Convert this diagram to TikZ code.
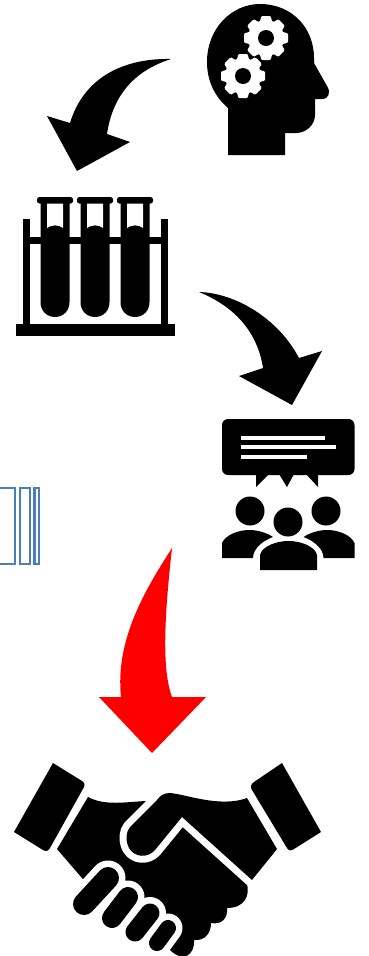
\documentclass[tikz,border=0pt]{standalone}
\usepackage{xcolor}
\usepackage{tikz}
\definecolor{boxblue}{HTML}{4A7EBB}
\definecolor{arrowred}{HTML}{FF0000}

\begin{document}
\begin{tikzpicture}[
        x=1pt, y=-1pt,
        blackshape/.style={fill=black, draw=none},
        cutout/.style={fill=white, draw=none},
        redarrow/.style={fill=arrowred, draw=none},
        outlinebox/.style={draw=boxblue, line width=2.2pt, fill=none},
        gearwheel/.pic={
            \fill[white] (0,0) circle[radius=18pt];
            \foreach \a in {0,45,...,315} {
                \fill[white, rotate=\a, rounded corners=1pt] (15,-6.5) -- (22,-4.6) -- (22,4.6) -- (15,6.5) -- cycle;
            }
            \fill[black] (0,0) circle[radius=8pt];
        },
        halo/.style={draw=white, line cap=round},
        fingertip/.style={draw=black, line cap=round}
    ]
        \useasboundingbox (0,0) rectangle (369,956);

        % head
        \fill[blackshape] (228,155) -- (228,108) .. controls (214,96) and (207,80) .. (207,62)
            .. controls (207,28) and (232,4) .. (260,4)
            .. controls (292,4) and (314,28) .. (314,58) -- (314,63) -- (327,86)
            .. controls (331,92) and (329,99) .. (322,99) -- (315,99) -- (315,115)
            .. controls (315,125) and (306,133) .. (296,133) -- (285,133) -- (285,155) -- cycle;
        \pic at (266,38) {gearwheel};
        \pic at (243,76) {gearwheel};

        % first arrow
        \fill[blackshape] (171,59) .. controls (120,58) and (83,80) .. (70,123) -- (47,116) -- (77,171) -- (130,142) -- (107,134)
            .. controls (112,100) and (130,72) .. (171,59) -- cycle;

        % rack with tubes
        \fill[blackshape] (16,324) rectangle (175,336);
        \fill[blackshape] (23,219) rectangle (30,324);
        \fill[blackshape] (161,219) rectangle (168,324);
        \fill[blackshape] (30,237) rectangle (161,244);
        \foreach \c in {55,95,135} {
            \begin{scope}[xshift=\c pt]
                \fill[blackshape, rounded corners=2.5pt] (-18,197) rectangle (18,203.5);
                \fill[blackshape] (-14.5,203) -- (14.5,203) -- (14.5,302) .. controls (14.5,311) and (8,317) .. (0,317)
                    .. controls (-8,317) and (-14.5,311) .. (-14.5,302) -- cycle;
                \fill[cutout] (-8,203.5) -- (8,203.5) -- (8,228) .. controls (4,224.5) and (-4,224.5) .. (-8,228) -- cycle;
            \end{scope}
        }

        % second arrow
        \fill[blackshape] (199,292) .. controls (235,293) and (278,318) .. (299,358) -- (322,351) -- (292,405) -- (239,376) -- (263,368)
            .. controls (258,335) and (238,308) .. (199,292) -- cycle;

        % speech bubble
        \fill[blackshape, rounded corners=6pt] (222,419) rectangle (354.5,475);
        \fill[blackshape] (256,474) -- (256,487) -- (269,474) -- cycle;
        \fill[blackshape] (279,474) -- (287,487) -- (294,474) -- cycle;
        \fill[blackshape] (306,474) -- (318,487) -- (318,474) -- cycle;
        \fill[cutout] (241,436) rectangle (325,440);
        \fill[cutout] (241,445) rectangle (336,449);
        \fill[cutout] (241,455) rectangle (307,459);

        % audience
        \fill[blackshape] (250,511) circle[radius=14.5pt];
        \fill[blackshape] (326,511) circle[radius=14.5pt];
        \fill[blackshape] (288,522) circle[radius=14.5pt];
        \fill[blackshape] (222,558) -- (222,543) .. controls (226,534) and (240,530) .. (249,530)
            .. controls (258,530) and (267,533) .. (273,537) .. controls (262,541) and (253,549) .. (253,558) -- cycle;
        \fill[blackshape] (354.5,558) -- (354.5,543) .. controls (350.5,534) and (336.5,530) .. (327.5,530)
            .. controls (318.5,530) and (309.5,533) .. (303.5,537) .. controls (314.5,541) and (323.5,549) .. (323.5,558) -- cycle;
        \fill[blackshape] (260,570) -- (260,555) .. controls (262,546) and (277,541) .. (288.5,541)
            .. controls (300,541) and (315,546) .. (317,555) -- (317,570) -- cycle;

        % blue boxes
        \draw[outlinebox] (-6,488.3) rectangle (15.3,564);
        \draw[outlinebox] (20,488.3) rectangle (29.8,564);
        \draw[outlinebox] (34.4,488.3) rectangle (39,564);

        % red arrow
        \fill[redarrow] (172,548) .. controls (145,590) and (115,640) .. (121,697) -- (99,697) -- (152,753) -- (206,697) -- (172,697)
            .. controls (162,670) and (164,620) .. (172,548) -- cycle;

        % handshake
        \fill[blackshape] (53,763) -- (82,781) .. controls (85,783) and (85,785) .. (84,787) -- (50,848)
            .. controls (48,851) and (46,852) .. (43,850) -- (14,832) -- cycle;
        \fill[blackshape] (282,763) -- (321,832) -- (294,849) .. controls (291,851) and (289,851) .. (287,848)
            -- (252,790) .. controls (250,787) and (251,784) .. (254,782) -- cycle;
        \fill[blackshape] (88,797) .. controls (105,806) and (125,802) .. (146,801) -- (190,815) -- (252,878)
            -- (247,884) .. controls (250,895) and (245,908) .. (227,908)
            .. controls (228,918) and (222,925) .. (211,923)
            .. controls (211,933) and (205,941) .. (194,940)
            .. controls (195,955) and (183,963) .. (170,950)
            -- (157,938) -- (135,925) -- (115,912) -- (95,895) -- (82,878) -- (57,849) -- cycle;
        \draw[halo, line width=35pt] (108,878) -- (84,904);
        \draw[halo, line width=33pt] (128,897) -- (112,918);
        \draw[halo, line width=32pt] (150,913) -- (135,932);
        \draw[halo, line width=29pt] (168,928) -- (157,943);
        \draw[fingertip, line width=22pt] (108,878) -- (84,904);
        \draw[fingertip, line width=20pt] (128,897) -- (112,918);
        \draw[fingertip, line width=19pt] (150,913) -- (135,932);
        \draw[fingertip, line width=16pt] (168,928) -- (157,943);
        \path[fill=white, draw=white, line width=14pt, line join=round] (157,800) .. controls (160,796) and (163,793) .. (170,793)
            .. controls (185,794) and (220,808) .. (247,798) -- (277,849) -- (252,880) -- (182,817) -- (155,850)
            .. controls (148,858) and (135,858) .. (129,848) .. controls (125,840) and (126,832) .. (130,827) -- cycle;
        \fill[blackshape] (157,800) .. controls (160,796) and (163,793) .. (170,793)
            .. controls (185,794) and (220,808) .. (247,798) -- (277,849) -- (252,880) -- (182,817) -- (155,850)
            .. controls (148,858) and (135,858) .. (129,848) .. controls (125,840) and (126,832) .. (130,827) -- cycle;
    \end{tikzpicture}
\end{document}
